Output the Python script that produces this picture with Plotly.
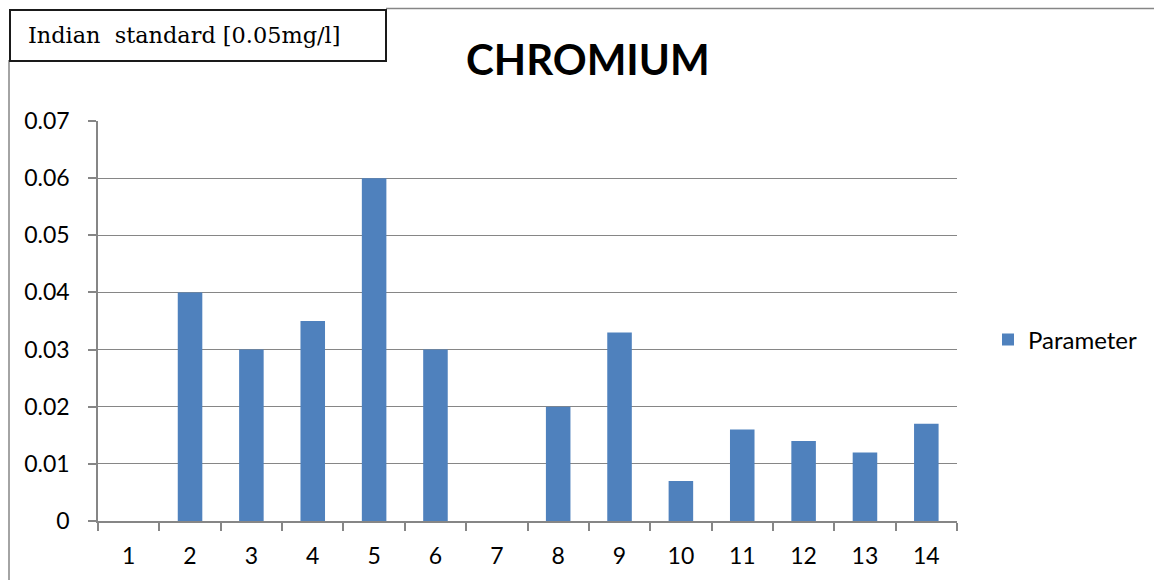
import plotly.graph_objects as go

categories = [str(i) for i in range(1, 15)]
values = [0, 0.04, 0.03, 0.035, 0.06, 0.03, 0, 0.02, 0.033, 0.007, 0.016, 0.014, 0.012, 0.017]
series_name = "Parameter"
y_ticks = [0, 0.01, 0.02, 0.03, 0.04, 0.05, 0.06, 0.07]
y_tick_labels = ["0", "0.01", "0.02", "0.03", "0.04", "0.05", "0.06", "0.07"]
title_text = "CHROMIUM"
note_text = "Indian&nbsp; standard [0.05mg/l]"

W, H = 1154, 580
L, R, T, B = 98, 957, 121, 521

def px(x):
    return (x - L) / (R - L)

def py(y):
    return (B - y) / (B - T)

GRID = "#868686"
FONT = "Lato, 'Open Sans', sans-serif"

fig = go.Figure()
fig.add_trace(go.Bar(
    x=categories, y=values, name=series_name,
    marker=dict(color="#4F81BD", line=dict(width=0)),
    showlegend=True,
))

fig.update_layout(
    width=W, height=H,
    margin=dict(l=L, r=W - R, t=T, b=H - B),
    paper_bgcolor="white", plot_bgcolor="white",
    bargap=0.6,
    font=dict(family=FONT, size=23, color="#000000"),
    showlegend=True,
    legend=dict(x=px(988), y=py(340), xanchor="left", yanchor="middle",
                font=dict(size=24, family=FONT), bgcolor="rgba(0,0,0,0)"),
    xaxis=dict(
        type="category", showline=True, linecolor=GRID, linewidth=1.5,
        ticks="outside", ticklen=8, tickcolor=GRID, tickwidth=1.5,
        tickson="boundaries", showgrid=False,
        tickfont=dict(size=23, family=FONT), ticklabelstandoff=14,
        range=[-0.5, 13.5],
    ),
    yaxis=dict(
        range=[0, 0.07], tickvals=y_ticks, ticktext=y_tick_labels,
        showline=True, linecolor=GRID, linewidth=1.5,
        ticks="outside", ticklen=8, tickcolor=GRID, tickwidth=1.5,
        showgrid=True, gridcolor=GRID, gridwidth=1.2, zeroline=False,
        tickfont=dict(size=23, family=FONT), ticklabelstandoff=14,
    ),
)

# chart border (left and top)
fig.add_shape(type="line", xref="paper", yref="paper",
              x0=px(9), x1=px(9), y0=py(60), y1=py(582),
              line=dict(color="#868686", width=1.5))
fig.add_shape(type="line", xref="paper", yref="paper",
              x0=px(386), x1=px(1160), y0=py(8.5), y1=py(8.5),
              line=dict(color="#868686", width=1.5))
# note box
fig.add_shape(type="rect", xref="paper", yref="paper",
              x0=px(10), x1=px(386), y0=py(61), y1=py(10),
              line=dict(color="#1a1a1a", width=2), fillcolor="white")
fig.add_annotation(xref="paper", yref="paper", x=px(26), y=py(35),
                   xanchor="left", yanchor="middle", showarrow=False,
                   text=note_text,
                   font=dict(family="'DejaVu Serif', 'Liberation Serif', serif", size=22.4, color="#000"))
# title
fig.add_annotation(xref="paper", yref="paper", x=px(588), y=py(59),
                   xanchor="center", yanchor="middle", showarrow=False,
                   text="<b>" + title_text + "</b>",
                   font=dict(family=FONT, size=42, color="#000"))

fig.write_html("out.html")
